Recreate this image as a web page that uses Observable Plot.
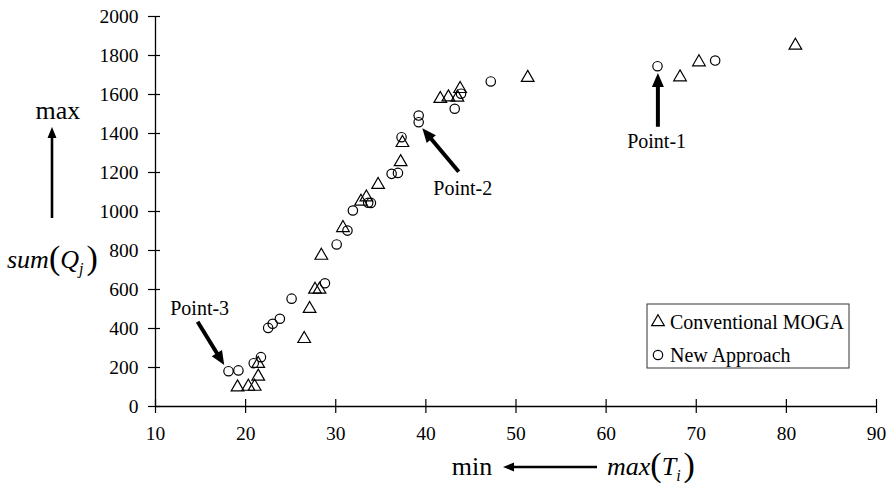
<!DOCTYPE html>
<html><head><meta charset="utf-8">
<script src="https://cdn.jsdelivr.net/npm/d3@7"></script>
<script src="https://cdn.jsdelivr.net/npm/@observablehq/plot@0.6"></script>
<style>body{margin:0;background:#fff}</style>
</head><body><div id="chart"></div>
<script>
// Conventional MOGA (triangles)
const mogaX = [19.1, 20.3, 21.0, 21.4, 21.4, 26.5, 27.1, 27.7, 28.2, 28.4, 30.8, 32.8, 33.4, 34.7, 37.2, 37.4, 41.6, 42.5, 43.5, 43.8, 51.3, 68.2, 70.3, 81.0];
const mogaY = [99, 102, 102, 154, 219, 347, 501, 600, 600, 774, 916, 1051, 1073, 1137, 1254, 1352, 1578, 1586, 1585, 1629, 1686, 1689, 1766, 1851];
// New Approach (circles)
const newX = [18.1, 19.2, 20.9, 21.7, 22.5, 23.0, 23.8, 25.1, 28.8, 30.1, 31.3, 31.9, 33.6, 33.9, 36.2, 36.9, 37.3, 39.2, 39.2, 43.2, 43.9, 47.2, 65.7, 72.1];
const newY = [181, 185, 222, 253, 403, 424, 450, 553, 632, 831, 902, 1005, 1045, 1044, 1193, 1198, 1381, 1492, 1458, 1527, 1604, 1667, 1745, 1774];

const xTicks = [10, 20, 30, 40, 50, 60, 70, 80, 90];
const yTicks = [0, 200, 400, 600, 800, 1000, 1200, 1400, 1600, 1800, 2000];
const seriesNames = ["Conventional MOGA", "New Approach"];

// annotations: label, label position, arrow tail -> tip (data coordinates)
const pointLabels = ["Point-1", "Point-2", "Point-3"];
const labelX = [65.6, 44.1, 14.9];
const labelY = [1328, 1087, 467];
const tailX = [65.8, 43.7, 14.73];
const tailY = [1432, 1201, 432];
const tipX = [65.8, 39.66, 17.68];
const tipY = [1708, 1424, 210];

const moga = mogaX.map((x, i) => ({x, y: mogaY[i]}));
const fresh = newX.map((x, i) => ({x, y: newY[i]}));

const W = 892, H = 487, mL = 155, mR = 16, mT = 16, mB = 81;
const pw = W - mL - mR, ph = H - mT - mB;
const R = 4.7;
const FONT = "'Liberation Serif', 'Times New Roman', serif";

const plot = Plot.plot({
  width: W, height: H,
  marginLeft: mL, marginRight: mR, marginTop: mT, marginBottom: mB,
  style: {fontFamily: FONT, fontSize: "19.5px", background: "white", color: "black", overflow: "visible"},
  x: {domain: [10, 90], ticks: xTicks},
  y: {domain: [0, 2000], ticks: yTicks},
  marks: [
    Plot.axisX(xTicks, {tickSize: 0, tickPadding: 20, label: null, fill: "black", tickFormat: d => String(d)}),
    Plot.axisY(yTicks, {tickSize: 0, tickPadding: 17, label: null, fill: "black", tickFormat: d => String(d)}),
    Plot.tickX(xTicks, {x: d => d, insetTop: ph - 7, insetBottom: -7, stroke: "black", strokeWidth: 1.2}),
    Plot.tickY(yTicks, {y: d => d, insetLeft: -7, insetRight: pw - 5, stroke: "black", strokeWidth: 1.2}),
    Plot.ruleY([0], {stroke: "black", strokeWidth: 1.3}),
    Plot.ruleX([10], {stroke: "black", strokeWidth: 1.3}),
    Plot.dot(moga, {x: "x", y: "y", symbol: "triangle", r: R, stroke: "black", strokeWidth: 1.2, fill: "none"}),
    Plot.dot(fresh, {x: "x", y: "y", symbol: "circle", r: R, stroke: "black", strokeWidth: 1.2, fill: "none"}),
    Plot.text(pointLabels, {x: (d, i) => labelX[i], y: (d, i) => labelY[i], text: d => d, textAnchor: "middle", lineAnchor: "bottom", fontSize: 20, fill: "black"})
  ]
});
document.getElementById("chart").append(plot);

const sx = plot.scale("x"), sy = plot.scale("y");
const svg = d3.select(plot);
const g = svg.append("g").attr("font-family", FONT).attr("fill", "black").attr("text-anchor", "start");

function arrow(x1, y1, x2, y2, w, hl, hw) {
  const dx = x2 - x1, dy = y2 - y1, L = Math.hypot(dx, dy), ux = dx / L, uy = dy / L;
  const bx = x2 - ux * hl, by = y2 - uy * hl;
  g.append("line").attr("x1", x1).attr("y1", y1).attr("x2", bx + ux).attr("y2", by + uy)
    .attr("stroke", "black").attr("stroke-width", w);
  g.append("path").attr("d", `M${x2},${y2}L${bx - uy * hw},${by + ux * hw}L${bx + uy * hw},${by - ux * hw}Z`).attr("fill", "black");
}
pointLabels.forEach((d, i) => arrow(sx.apply(tailX[i]), sy.apply(tailY[i]), sx.apply(tipX[i]), sy.apply(tipY[i]), 4, 14, 6));

// y axis title
g.append("text").attr("x", 58).attr("y", 119).attr("text-anchor", "middle").attr("font-size", 26).text("max");
arrow(52, 218, 52, 127, 2.6, 11, 4.5);
const ty = g.append("text").attr("x", 7).attr("y", 268).attr("font-size", 26);
ty.append("tspan").attr("font-style", "italic").text("sum");
ty.append("tspan").attr("font-size", 34).attr("dy", 1).text("(");
ty.append("tspan").attr("font-style", "italic").attr("dy", -1).text("Q");
ty.append("tspan").attr("font-style", "italic").attr("font-size", 16).attr("dy", 6).text("j");
ty.append("tspan").attr("font-size", 34).attr("dx", 3).attr("dy", -5).text(")");

// x axis title
g.append("text").attr("x", 472).attr("y", 475).attr("text-anchor", "middle").attr("font-size", 26).text("min");
arrow(597, 467, 503, 467, 2.6, 11, 4.5);
const tx = g.append("text").attr("x", 607).attr("y", 475).attr("font-size", 26);
tx.append("tspan").attr("font-style", "italic").text("max");
tx.append("tspan").attr("font-size", 34).attr("dy", 1).text("(");
tx.append("tspan").attr("font-style", "italic").attr("dy", -1).text("T");
tx.append("tspan").attr("font-style", "italic").attr("font-size", 16).attr("dy", 6).text("i");
tx.append("tspan").attr("font-size", 34).attr("dx", 3).attr("dy", -5).text(")");

// legend
const lg = g.append("g");
lg.append("rect").attr("x", 647).attr("y", 304).attr("width", 202).attr("height", 64)
  .attr("fill", "white").attr("stroke", "#333").attr("stroke-width", 1);
const syms = [d3.symbolTriangle, d3.symbolCircle];
seriesNames.forEach((name, i) => {
  const cy = 322 + i * 33;
  lg.append("path").attr("transform", `translate(658,${cy})`)
    .attr("d", d3.symbol(syms[i], R * R * Math.PI)()).attr("fill", "none").attr("stroke", "black").attr("stroke-width", 1.2);
  lg.append("text").attr("x", 670).attr("y", cy + 7).attr("font-size", 20).text(name);
});
</script>
</body></html>
